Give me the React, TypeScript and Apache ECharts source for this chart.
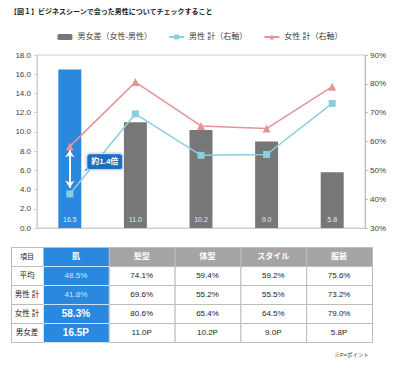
import React, { useEffect, useRef } from "react";
import * as echarts from "echarts";

const title = "【図１】ビジネスシーンで会った男性についてチェックすること";
const categories = ["肌", "髪型", "体型", "スタイル", "服装"];
const diffValues = [16.5, 11.0, 10.2, 9.0, 5.8];
const maleTotal = [41.8, 69.6, 55.2, 55.5, 73.2];
const femaleTotal = [58.3, 80.6, 65.4, 64.5, 79.0];
const averageValues = [48.5, 74.1, 59.4, 59.2, 75.6];
const rowLabels = ["平均", "男性 計", "女性 計", "男女差"];
const seriesNames = ["男女差（女性-男性）", "男性 計（右軸）", "女性 計（右軸）"];
const leftAxis = { min: 0, max: 18, interval: 2 };
const rightAxis = { min: 30, max: 90, interval: 10 };
const arrowRange = [8.1, 4.2];
const calloutValue = 6.9;
const calloutText = "約1.4倍";
const footnote = "※P=ポイント";

const FONT = "'Liberation Sans', 'Noto Sans CJK JP', sans-serif";
const BLUE = "#2a88df";
const GRAY = "#777777";

export default function App() {
  const ref = useRef<HTMLDivElement>(null);
  useEffect(() => {
    const chart = echarts.init(ref.current!, null, { renderer: "svg" });
    const option: any = {
      animation: false,
      textStyle: { fontFamily: FONT },
      grid: { left: 37, right: 35, top: 55, bottom: 140, show: true, borderColor: "#cfcfcf", borderWidth: 1 },
      legend: {
        top: 28,
        left: "center",
        itemWidth: 15,
        itemHeight: 6,
        itemGap: 16,
        textStyle: { fontSize: 8, color: "#404040", fontFamily: FONT },
        data: seriesNames,
      },
      xAxis: {
        type: "category",
        data: categories,
        axisLabel: { show: false },
        axisTick: { show: false },
        axisLine: { lineStyle: { color: "#cfcfcf" } },
      },
      yAxis: [
        {
          type: "value",
          min: leftAxis.min,
          max: leftAxis.max,
          interval: leftAxis.interval,
          splitLine: { show: false },
          axisLine: { show: true, lineStyle: { color: "#cfcfcf" } },
          axisTick: { show: true, length: 3, lineStyle: { color: "#cfcfcf" } },
          axisLabel: { fontSize: 8, color: "#404040", margin: 6, formatter: (v: number) => v.toFixed(1) },
        },
        {
          type: "value",
          min: rightAxis.min,
          max: rightAxis.max,
          interval: rightAxis.interval,
          splitLine: { show: false },
          axisLine: { show: true, lineStyle: { color: "#bdbdbd" } },
          axisTick: { show: true, length: 3, lineStyle: { color: "#bdbdbd" } },
          axisLabel: { fontSize: 8, color: "#404040", margin: 5, formatter: (v: number) => v + "%" },
        },
      ],
      series: [
        {
          name: seriesNames[0],
          type: "bar",
          barWidth: "35%",
          itemStyle: { color: GRAY },
          data: diffValues.map((v, i) => (i === 0 ? { value: v, itemStyle: { color: BLUE } } : v)),
          label: {
            show: true,
            position: "insideBottom",
            distance: 5,
            fontSize: 7,
            color: "#e8e8e8",
            formatter: (p: any) => p.value.toFixed(1),
          },
          markLine: {
            silent: true,
            symbol: ["arrow", "arrow"],
            symbolSize: [7, 7],
            label: { show: false },
            lineStyle: { color: "#ffffff", width: 2, type: "solid" },
            data: [[{ coord: [0, arrowRange[0]] }, { coord: [0, arrowRange[1]] }]],
          },
        },
        {
          name: seriesNames[1],
          type: "line",
          yAxisIndex: 1,
          data: maleTotal,
          symbol: "rect",
          symbolSize: 7,
          itemStyle: { color: "#8ccde0" },
          lineStyle: { color: "#8ccde0", width: 1.5 },
        },
        {
          name: seriesNames[2],
          type: "line",
          yAxisIndex: 1,
          data: femaleTotal,
          symbol: "triangle",
          symbolSize: 8,
          itemStyle: { color: "#e39594" },
          lineStyle: { color: "#e39594", width: 1.5 },
        },
      ],
    };
    chart.setOption(option);

    const [cx, cy] = chart.convertToPixel({ xAxisIndex: 0, yAxisIndex: 0 }, [0, calloutValue]) as number[];
    const graphics: any[] = [];
    graphics.push({
      type: "text",
      left: 10,
      top: 8,
      style: { text: title, fontSize: 7, fontWeight: "bold", fill: "#222", fontFamily: FONT },
    });
    const bx = cx + 17;
    graphics.push({
      type: "polygon",
      shape: { points: [[bx + 2, cy + 4], [bx + 7, cy + 4], [bx - 3, cy + 10]] },
      style: { fill: "#1a6fc2" },
      z: 100,
    });
    graphics.push({
      type: "rect",
      shape: { x: bx, y: cy - 8, width: 36, height: 16, r: 3 },
      style: { fill: "#1a6fc2", stroke: "#d8e8f7", lineWidth: 1, shadowBlur: 2, shadowColor: "rgba(0,0,0,0.3)" },
      z: 100,
    });
    graphics.push({
      type: "text",
      x: bx + 18,
      y: cy,
      style: { text: calloutText, fontSize: 8, fontWeight: "bold", fill: "#fff", align: "center", verticalAlign: "middle", fontFamily: FONT },
      z: 101,
    });

    // table
    const tLeft = 11;
    const tTop = 247;
    const firstW = 32;
    const colW = (372 - (tLeft + firstW)) / categories.length;
    const rowH = 19;
    const rows = [averageValues, maleTotal, femaleTotal, diffValues];
    const fmt = (r: number, v: number) => (r === 3 ? v.toFixed(1) + "P" : v.toFixed(1) + "%");
    const cell = (x: number, y: number, w: number, h: number, fill: string, stroke: string) => ({
      type: "rect",
      shape: { x: x + 0.5, y: y + 0.5, width: w, height: h },
      style: { fill, stroke, lineWidth: 1 },
    });
    const txt = (x: number, y: number, text: string, size: number, color: string, bold = false) => ({
      type: "text",
      x,
      y,
      style: { text, fontSize: size, fill: color, fontWeight: bold ? "bold" : "normal", align: "center", verticalAlign: "middle", fontFamily: FONT },
      z: 10,
    });
    graphics.push(cell(tLeft, tTop, firstW, rowH, "#fff", "#bdbdbd"));
    graphics.push(txt(tLeft + firstW / 2, tTop + rowH / 2, "項目", 7, "#222"));
    categories.forEach((c, i) => {
      const x = tLeft + firstW + i * colW;
      graphics.push(cell(x, tTop, colW, rowH, i === 0 ? BLUE : "#a5a5a5", "#bdbdbd"));
      graphics.push(txt(x + colW / 2, tTop + rowH / 2, c, 8, "#fff", true));
    });
    rows.forEach((vals, r) => {
      const y = tTop + (r + 1) * rowH;
      graphics.push(cell(tLeft, y, firstW, rowH, "#fff", "#bdbdbd"));
      graphics.push(txt(tLeft + firstW / 2, y + rowH / 2, rowLabels[r], 7.5, "#222"));
      vals.forEach((v, i) => {
        const x = tLeft + firstW + i * colW;
        if (i === 0) {
          graphics.push(cell(x, y, colW, rowH, BLUE, "#cfe3f7"));
          const big = r >= 2;
          graphics.push(txt(x + colW / 2, y + rowH / 2, fmt(r, v), big ? 10 : 8, big ? "#fff" : "#cfe6ff", big));
        } else {
          graphics.push(cell(x, y, colW, rowH, "#fff", "#bdbdbd"));
          graphics.push(txt(x + colW / 2, y + rowH / 2, fmt(r, v), 8, "#222"));
        }
      });
    });
    graphics.push({
      type: "text",
      right: 31,
      top: 352,
      style: { text: footnote, fontSize: 5.5, fill: "#444", fontFamily: FONT },
    });
    chart.setOption({ graphic: graphics });
    return () => chart.dispose();
  }, []);
  return <div ref={ref} style={{ position: "fixed", left: 0, top: 0, width: 400, height: 368, background: "#fff" }} />;
}
